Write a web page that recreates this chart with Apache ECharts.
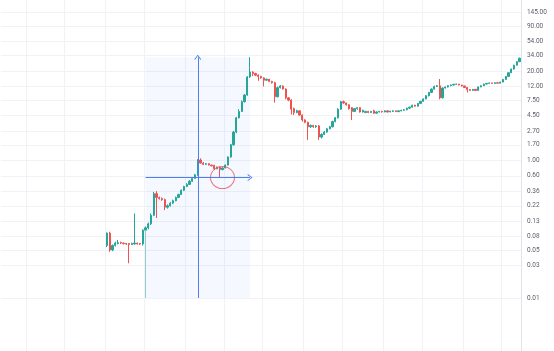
<!DOCTYPE html>
<html><head><meta charset="utf-8">
<script src="https://cdn.jsdelivr.net/npm/echarts@6/dist/echarts.min.js"></script>
<style>html,body{margin:0;padding:0;background:#fff}#c{width:554px;height:351px}</style>
</head><body><div id="c"></div>
<script>
// candles: [open, close, low, high]
const launch = [
 [0.058,0.088,0.055,0.090],[0.088,0.050,0.047,0.092],[0.050,0.058,0.048,0.060],[0.058,0.063,0.056,0.066],
 [0.062,0.064,0.060,0.070],[0.064,0.063,0.061,0.066],[0.063,0.062,0.060,0.064],[0.062,0.061,0.059,0.063],
 [0.062,0.060,0.032,0.063],[0.060,0.062,0.059,0.064],[0.061,0.063,0.060,0.170],[0.063,0.061,0.060,0.064],
 [0.062,0.061,0.059,0.063],[0.061,0.097,0.058,0.100]
];
const firstLeg = [
 [0.097,0.105,0.095,0.110],[0.105,0.120,0.100,0.125],[0.120,0.160,0.115,0.170],[0.160,0.330,0.155,0.350],
 [0.330,0.290,0.146,0.360],[0.290,0.280,0.270,0.300],[0.280,0.270,0.260,0.290],[0.270,0.210,0.190,0.280],
 [0.210,0.220,0.200,0.230],[0.220,0.240,0.215,0.250],[0.240,0.260,0.235,0.270],[0.260,0.290,0.255,0.300],
 [0.290,0.320,0.285,0.330],[0.320,0.370,0.315,0.380],[0.370,0.420,0.360,0.430],[0.420,0.450,0.410,0.470],
 [0.450,0.500,0.440,0.520],[0.500,0.550,0.490,0.570],[0.550,0.620,0.540,0.640],[0.620,1.020,0.600,1.050]
];
const pause = [
 [1.020,0.920,0.900,1.080],[0.920,0.880,0.860,0.950],[0.880,0.900,0.870,0.920],[0.900,0.860,0.850,0.910],
 [0.860,0.840,0.820,0.870],[0.850,0.760,0.740,0.870],[0.760,0.800,0.750,0.820],[0.800,0.740,0.560,0.820],
 [0.740,0.780,0.720,0.800],[0.780,0.860,0.770,0.880]
];
const surge = [
 [0.86,1.13,0.85,1.15],[1.13,1.70,1.10,1.75],[1.70,2.60,1.65,2.70],[2.60,4.20,2.50,4.30],
 [4.20,5.20,4.10,5.60],[5.20,7.20,5.10,7.50],[7.20,9.00,7.00,9.30],[9.00,16.5,8.80,17.0],[16.5,19.5,16.0,32.0]
];
const decline = [
 [19.5,18.5,17.0,20.0],[18.5,17.5,17.0,19.0],[17.5,16.8,14.5,18.0],[16.8,16.0,15.5,17.2],[16.0,14.8,12.0,16.3],
 [14.8,15.3,14.5,15.6],[15.3,14.2,13.9,15.5],[14.2,13.6,13.2,14.5],[13.6,8.5,7.0,14.0],[8.5,11.5,8.3,12.0],
 [11.5,12.2,11.2,12.6],[12.2,11.0,10.8,12.4],[11.0,8.2,7.8,11.3],[8.2,7.6,7.3,8.4],[7.6,5.6,4.7,7.8],
 [5.7,5.0,4.6,5.9],[5.0,5.3,4.9,5.5],[5.3,4.6,4.5,5.4],[4.6,3.9,3.7,4.7],[3.9,3.6,3.5,4.0],
 [3.6,3.1,2.0,3.7],[3.1,3.25,3.0,3.35],[3.25,3.1,3.0,3.3],[3.1,3.2,3.0,3.3],[3.2,2.2,2.0,3.3]
];
const recovery = [
 [2.2,2.4,2.1,2.5],[2.4,2.6,2.35,2.7],[2.6,2.9,2.55,3.0],[2.9,3.1,2.85,3.2],[3.1,3.7,3.05,3.8],
 [3.7,4.2,3.6,4.3],[4.2,5.6,4.1,5.8],[5.6,7.2,5.5,7.4],[7.2,6.9,6.7,7.5],[6.9,6.5,6.3,7.0],
 [6.5,5.7,5.5,6.6],[5.9,5.2,3.9,6.0],[5.2,5.7,5.1,5.8],[5.7,5.9,5.5,6.0],[5.9,5.1,5.0,6.0],[5.1,5.4,5.0,5.5]
];
const base = [
 [5.0,5.2,4.9,5.3],[5.2,5.0,4.9,5.3],[5.0,5.2,4.95,5.3],[5.3,4.9,4.8,5.5],[4.9,5.1,4.85,5.2],
 [5.1,5.2,5.0,5.3],[5.2,5.1,5.0,5.3],[5.1,5.3,5.05,5.4],[5.3,5.1,5.0,5.35],[5.1,5.25,5.05,5.3],
 [5.2,5.3,5.1,5.4],[5.3,5.15,5.1,5.35],[5.15,5.3,5.1,5.4],[5.3,5.4,5.2,5.5],[5.4,5.5,5.3,5.6],
 [5.5,5.8,5.4,5.9],[5.8,6.0,5.7,6.1],[6.0,6.4,5.9,6.5],[6.4,6.2,6.1,6.5],[6.2,6.8,6.1,6.9],
 [6.8,7.3,6.7,7.4],[7.3,7.9,7.2,8.0],[7.9,8.8,7.8,9.0],[8.8,9.8,8.6,10.0],[9.8,11.0,9.6,11.2],
 [11.0,12.0,10.8,12.3],[12.0,12.3,11.8,12.6]
];
const finalRun = [
 [12.3,8.2,7.8,15.4],[8.2,11.4,8.0,11.6],[11.4,11.8,11.2,12.0],[11.8,12.3,11.6,12.5],[12.3,12.6,12.1,12.8],
 [12.6,12.9,12.4,13.1],[12.9,13.0,12.7,13.2],[13.0,12.6,12.5,13.1],[12.6,12.2,12.0,12.7],[12.2,11.6,11.4,12.3],
 [11.6,10.8,9.8,11.7],[10.8,10.5,10.3,11.0],[10.5,10.9,10.4,11.0],[10.9,10.5,10.3,11.0],[10.5,11.8,10.4,12.0],
 [11.8,12.3,11.7,12.5],[12.3,13.0,12.2,13.2],[13.0,13.3,12.9,13.5],[13.3,13.5,13.2,13.7],[13.5,13.3,13.2,13.6],
 [13.3,13.6,13.2,13.8],[13.6,13.4,13.3,13.7],[13.4,13.9,13.3,14.1],[13.9,15.2,13.8,15.4],[15.2,16.8,15.0,17.0],
 [16.8,19.0,16.6,19.3],[19.0,21.5,18.8,21.8],[21.5,24.5,21.2,24.8],[24.5,27.5,24.2,28.0],[27.5,31.0,27.2,31.5]
];
const priceTicks = [0.01,0.03,0.05,0.08,0.13,0.22,0.36,0.60,1.00,1.70,2.70,4.50,7.50,12.00,20.00,34.00,54.00,90.00,145.00];
const leadBlank = 38;          // empty bars before the first candle
const rangeStart = 14, rangeEnd = 52, rangeMid = 33, circleBar = 42; // candle indices of drawings
const rangeLow = 0.01, rangeHigh = 32, rangeMidPrice = 0.566;
const vGridCats = [9,23,38,52,67,81,95,110,124,139,153,168,182];

const candles = [].concat(launch, firstLeg, pause, surge, decline, recovery, base, finalRun);
const blanks = Array.from({length: leadBlank}, () => '-');
const seriesData = blanks.concat(candles);
const cats = seriesData.map((_, k) => k);
const c = (i) => leadBlank + i;

const chevron = 'path://M5,0 L10,9 L8.8,9.8 L5,2.6 L1.2,9.8 L0,9 Z';
const blue = '#4d7ff0';

const chart = echarts.init(document.getElementById('c'), null, {renderer: 'canvas'});
chart.setOption({
  animation: false,
  backgroundColor: '#ffffff',
  grid: {left: 1.125, right: 33.125, top: 0, bottom: 0, containLabel: false},
  xAxis: {
    type: 'category', data: cats, boundaryGap: true,
    axisLine: {show: false}, axisTick: {show: false}, axisLabel: {show: false},
    splitLine: {show: true, interval: (i) => vGridCats.includes(i), lineStyle: {color: '#f0f2f6', width: 1}}
  },
  yAxis: {
    type: 'log', logBase: 10, position: 'right', min: 0.00169, max: 217.7,
    axisLine: {show: true, lineStyle: {color: '#e0e3eb'}},
    axisTick: {show: false, customValues: priceTicks},
    axisLabel: {customValues: priceTicks, formatter: (v) => Number(v).toFixed(2), color: '#5d606b', fontSize: 6.5, margin: 6, fontFamily: 'Roboto, sans-serif'},
    splitLine: {show: true, lineStyle: {color: '#f0f2f6', width: 1}}
  },
  series: [{
    type: 'candlestick',
    data: seriesData,
    barWidth: 1.7,
    itemStyle: {color: '#26a69a', color0: '#ef5350', borderColor: '#26a69a', borderColor0: '#ef5350', borderWidth: 1},
    markArea: {
      silent: true,
      itemStyle: {color: 'rgba(41,98,255,0.045)'},
      data: [[{coord: [c(rangeStart), rangeLow]}, {coord: [c(rangeEnd), rangeHigh]}]]
    },
    markLine: {
      silent: true, symbol: 'none', label: {show: false},
      lineStyle: {color: blue, width: 1, type: 'solid'},
      data: [
        [{coord: [c(rangeMid), rangeLow], symbol: 'none'}, {coord: [c(rangeMid), rangeHigh], symbol: chevron, symbolSize: [7, 5]}],
        [{coord: [c(rangeStart), rangeMidPrice], symbol: 'none'}, {coord: [c(rangeEnd), rangeMidPrice], symbol: chevron, symbolSize: [7, 5]}],
        [{coord: [c(rangeStart), rangeLow], symbol: 'none', lineStyle: {color: '#8fcfc9'}}, {coord: [c(rangeStart), 0.097], symbol: 'none'}]
      ]
    }
  }, {
    type: 'scatter',
    data: [[c(circleBar), rangeMidPrice]],
    symbol: 'circle', symbolSize: [24, 22], silent: true,
    itemStyle: {color: 'rgba(0,0,0,0)', borderColor: '#e8505b', borderWidth: 1}
  }]
});
</script>
</body></html>
